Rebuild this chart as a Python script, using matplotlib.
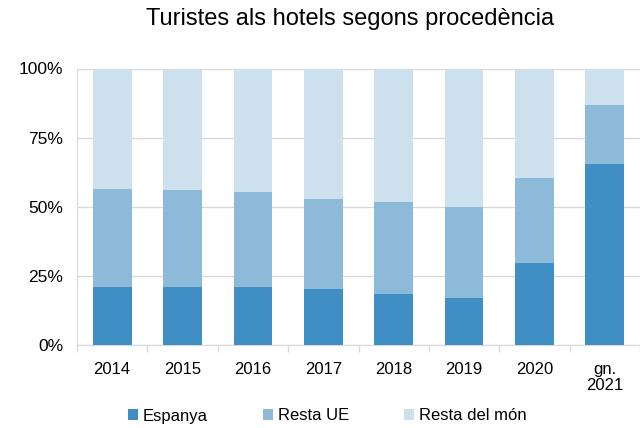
import matplotlib.pyplot as plt
import numpy as np

plt.rcParams['font.family'] = ['Liberation Sans', 'DejaVu Sans']

# percentages by origin
years = ['2014', '2015', '2016', '2017', '2018', '2019', '2020', 'gn.\n2021']
espanya = [20.9, 20.9, 20.9, 20.1, 18.3, 17.1, 29.6, 65.5]
resta_ue = [35.6, 35.2, 34.4, 32.7, 33.4, 32.8, 30.9, 21.2]
resta_mon = [100 - a - b for a, b in zip(espanya, resta_ue)]

colors = ['#3f8fc4', '#8cbad8', '#cce0ed']

fig = plt.figure(figsize=(6.4, 4.28), dpi=100)
ax = fig.add_axes([77 / 640, 1 - 345 / 428, 563 / 640, 276.5 / 428])

x = np.arange(len(years))
w = 0.55
ax.bar(x, espanya, w, color=colors[0], label='Espanya', zorder=3)
ax.bar(x, resta_ue, w, bottom=espanya, color=colors[1], label='Resta UE', zorder=3)
bottom2 = [a + b for a, b in zip(espanya, resta_ue)]
ax.bar(x, resta_mon, w, bottom=bottom2, color=colors[2], label='Resta del món', zorder=3)

ax.set_xlim(-0.5, len(years) - 0.5)
ax.set_ylim(0, 100)
ax.set_yticks([0, 25, 50, 75, 100])
ax.set_yticklabels(['0%', '25%', '50%', '75%', '100%'], fontsize=12.5)
ax.yaxis.grid(True, color='#d9d9d9', linewidth=1, zorder=0)
ax.tick_params(axis='y', length=0, pad=10)

ax.set_xticks(x)
ax.set_xticklabels(years, fontsize=12, linespacing=1.1)
ax.tick_params(axis='x', length=0, pad=12)
ax.set_xticks(np.arange(len(years) + 1) - 0.5, minor=True)
ax.tick_params(axis='x', which='minor', length=5, color='#d9d9d9', width=1)

for s in ['top', 'right']:
    ax.spines[s].set_visible(False)
ax.spines['left'].set_color('#d9d9d9')
ax.spines['bottom'].set_color('#d9d9d9')

fig.text(350 / 640, 1 - 19 / 428, 'Turistes als hotels segons procedència',
         ha='center', va='center', fontsize=17)

fig.legend(loc='center', bbox_to_anchor=(327 / 640, 1 - 416 / 428), ncol=3,
           frameon=False, fontsize=12, handlelength=0.6, handleheight=0.6,
           handletextpad=0.3, columnspacing=3.3)

fig.savefig('out.png', dpi=100)
